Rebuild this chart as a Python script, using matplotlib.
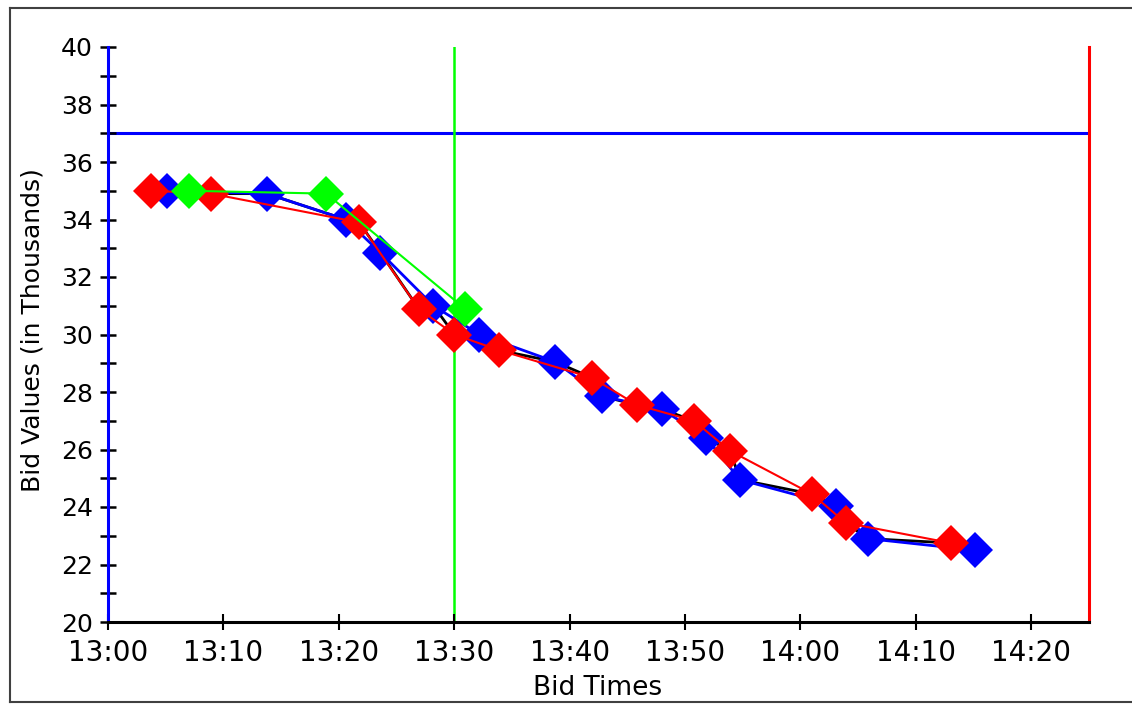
import matplotlib
matplotlib.use("Agg")
import matplotlib.pyplot as plt
from matplotlib.ticker import FuncFormatter, MultipleLocator
from matplotlib.lines import Line2D

# === Daten ===
blue_times = ["13:05:05", "13:13:45", "13:20:35", "13:23:36", "13:28:12", "13:32:10", "13:38:45",
              "13:42:50", "13:48:00", "13:51:50", "13:54:45", "14:03:05", "14:05:50", "14:15:05"]
blue_bids = [35.0, 34.9, 34.0, 32.85, 31.0, 30.0, 29.05, 27.85, 27.4, 26.4, 24.95, 24.05, 22.9, 22.5]

red_times = ["13:03:45", "13:08:55", "13:21:45", "13:26:55", "13:30:00", "13:33:55", "13:41:55",
             "13:45:50", "13:50:45", "13:53:55", "14:01:00", "14:03:55", "14:13:00"]
red_bids = [35.0, 34.9, 33.9, 30.9, 30.0, 29.45, 28.5, 27.55, 27.0, 25.95, 24.45, 23.45, 22.75]

green_times = ["13:07:00", "13:18:55", "13:30:55"]
green_bids = [35.0, 34.9, 30.9]

reserve_bid = 37.0
now_time = "13:30:00"
end_time = "14:25:00"


def to_min(s):
    h, m, sec = map(int, s.split(":"))
    return (h - 13) * 60 + m + sec / 60


bx = [to_min(t) for t in blue_times]
rx = [to_min(t) for t in red_times]
gx = [to_min(t) for t in green_times]

# alle Gebote (blau + rot) zeitlich sortiert -> schwarze Linie
all_bids = sorted(zip(bx + rx, blue_bids + red_bids))
ax_all = [p[0] for p in all_bids]
ay_all = [p[1] for p in all_bids]

# === Plot ===
fig = plt.figure(figsize=(11.32, 7.05), dpi=100)
ax = fig.add_axes([108 / 1132, 83 / 705, 981 / 1132, 575 / 705])

ax.plot(ax_all, ay_all, color="black", lw=2, zorder=2)
ax.plot(bx, blue_bids, color="#0000ff", lw=2, marker="D", ms=18, mew=0, zorder=3)
ax.plot(rx, red_bids, color="#ff0000", lw=1.5, marker="D", ms=18, mew=0, zorder=4)
ax.plot(gx, green_bids, color="#00ff00", lw=1.5, marker="D", ms=18, mew=0, zorder=5)

ax.axhline(reserve_bid, color="#0000ff", lw=2.2, zorder=1)
ax.axvline(to_min(now_time), color="#00ff00", lw=1.8, zorder=1)
ax.axvline(to_min(end_time), color="#ff0000", lw=2.2, zorder=1, clip_on=False)

ax.set_xlim(0, to_min(end_time))
ax.set_ylim(20, 40)

ax.spines["top"].set_visible(False)
ax.spines["right"].set_visible(False)
ax.spines["left"].set_color("#0000ff")
ax.spines["left"].set_linewidth(2.2)
ax.spines["bottom"].set_color("black")
ax.spines["bottom"].set_linewidth(2.2)

ax.xaxis.set_major_locator(MultipleLocator(10))
ax.xaxis.set_major_formatter(FuncFormatter(lambda v, p: f"{13 + int(v) // 60}:{int(v) % 60:02d}"))
ax.yaxis.set_major_locator(MultipleLocator(2))
ax.yaxis.set_minor_locator(MultipleLocator(1))

ax.tick_params(axis="y", which="both", direction="inout", length=11.5, width=1.8, color="black", pad=5,
               labelsize=18)
ax.tick_params(axis="x", which="major", direction="inout", length=11, width=1.5, color="black", pad=7,
               labelsize=20)

fig.text(33 / 1132, (705 - 330) / 705, "Bid Values (in Thousands)", rotation=90,
         ha="center", va="center", fontsize=18)
fig.text(598 / 1132, (705 - 675) / 705, "Bid Times", ha="center", va="top", fontsize=19)

# Rahmen um das Bild
frame_col = "#404040"
fig.add_artist(Line2D([10 / 1132, 1], [1 - 8 / 705, 1 - 8 / 705], transform=fig.transFigure,
                      color=frame_col, lw=1.5, zorder=21))
fig.add_artist(Line2D([10 / 1132, 10 / 1132], [3 / 705, 1 - 8 / 705], transform=fig.transFigure,
                      color=frame_col, lw=1.5, zorder=21))
fig.add_artist(Line2D([10 / 1132, 1], [3 / 705, 3 / 705], transform=fig.transFigure,
                      color=frame_col, lw=1.5, zorder=21))

fig.savefig("out.png", dpi=100)
